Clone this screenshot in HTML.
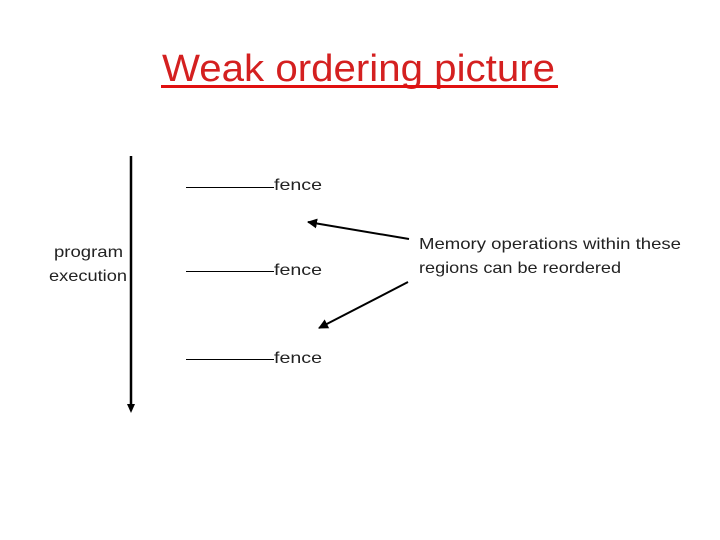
<!DOCTYPE html>
<html><head><style>html,body{margin:0;padding:0;background:#fff}</style></head><body>
<svg width="720" height="540" xmlns="http://www.w3.org/2000/svg" style="display:block">
<defs><marker id="a" viewBox="0 0 10 10" refX="9" refY="5" markerWidth="5" markerHeight="5" orient="auto"><path d="M0,0L10,5L0,10z" fill="#000"/></marker></defs>
<rect width="720" height="540" fill="#fff"/>
<text x="162" y="81" font-family="Liberation Sans, sans-serif" font-size="38" fill="#d42020" textLength="393" lengthAdjust="spacingAndGlyphs">Weak ordering picture</text>
<rect x="161" y="85" width="397" height="3" fill="#e01010"/>
<line x1="131" y1="156" x2="131" y2="406" stroke="#000" stroke-width="2.5"/>
<path d="M127,404L135,404L131,413z" fill="#000"/>
<g stroke="#000" stroke-width="1"><line x1="186" y1="187.5" x2="274" y2="187.5"/><line x1="186" y1="271.5" x2="274" y2="271.5"/><line x1="186" y1="359.5" x2="274" y2="359.5"/></g>
<g font-family="Liberation Sans, sans-serif" font-size="16" fill="#222">
<text x="274" y="190" textLength="48" lengthAdjust="spacingAndGlyphs">fence</text>
<text x="274" y="275" textLength="48" lengthAdjust="spacingAndGlyphs">fence</text>
<text x="274" y="363" textLength="48" lengthAdjust="spacingAndGlyphs">fence</text>
<text x="54" y="257" textLength="69" lengthAdjust="spacingAndGlyphs">program</text>
<text x="49" y="281" textLength="78" lengthAdjust="spacingAndGlyphs">execution</text>
<text x="419" y="249" textLength="262" lengthAdjust="spacingAndGlyphs">Memory operations within these</text>
<text x="419" y="273" textLength="202" lengthAdjust="spacingAndGlyphs">regions can be reordered</text>
</g>
<line x1="409" y1="239" x2="308" y2="222" stroke="#000" stroke-width="2" marker-end="url(#a)"/>
<line x1="408" y1="282" x2="319" y2="328" stroke="#000" stroke-width="2" marker-end="url(#a)"/>
</svg>
</body></html>
